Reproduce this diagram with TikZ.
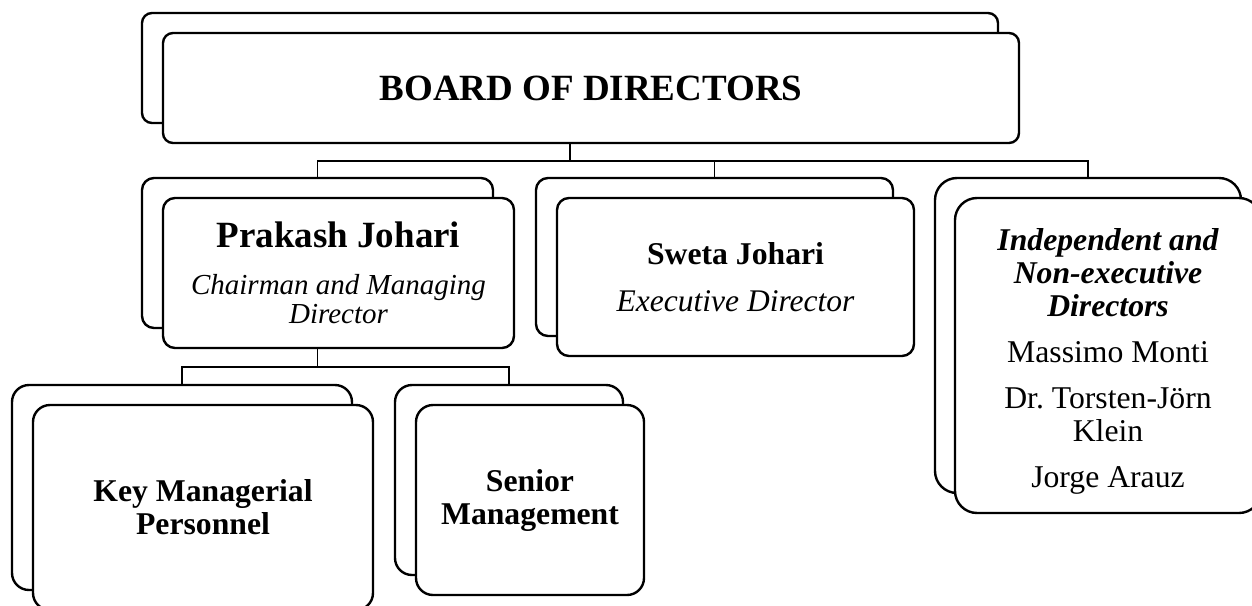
\documentclass[tikz,border=0pt]{standalone}
\usepackage{fontspec}
\setmainfont{Liberation Serif}
\begin{document}
\begin{tikzpicture}[x=1pt,y=-1pt,
		box/.style={draw, line width=2.4pt, fill=white, inner sep=0pt, align=flush center},
		link/.style={line width=1.2pt}]
	\path[use as bounding box, clip] (0,0) rectangle (1252,605);
	% board of directors
	\node[box, rounded corners=10pt, minimum width=856pt, minimum height=110pt] (bodback) at (570,68) {};
	\node[box, rounded corners=10pt, minimum width=856pt, minimum height=110pt, text width=800pt,
		font=\fontsize{37}{40}\selectfont\bfseries] (bod) at (591,88) {BOARD OF DIRECTORS};
	% second row
	\node[box, rounded corners=12pt, minimum width=351pt, minimum height=150pt] (pjback) at (317.5,253) {};
	\node[box, rounded corners=12pt, minimum width=351pt, minimum height=150pt, text width=330pt] (pj) at (338.5,273)
		{{\fontsize{37}{37}\selectfont\bfseries Prakash Johari\par}\vspace{18pt}
		{\fontsize{29}{29}\selectfont\itshape Chairman and Managing\\ Director\par}};
	\node[box, rounded corners=12pt, minimum width=357pt, minimum height=158pt] (swback) at (714.5,257) {};
	\node[box, rounded corners=12pt, minimum width=357pt, minimum height=158pt, text width=330pt] (sw) at (735.5,277)
		{{\fontsize{31.7}{32}\selectfont\bfseries Sweta Johari\par}\vspace{15pt}
		{\fontsize{31.5}{32}\selectfont\itshape Executive Director\par}};
	\node[box, rounded corners=22pt, minimum width=306pt, minimum height=315pt] (ipback) at (1088,335.5) {};
	\node[box, rounded corners=22pt, minimum width=306pt, minimum height=315pt, text width=270pt,
		font=\fontsize{31.7}{33}\selectfont] (ip) at (1108,355.5)
		{{\bfseries\itshape \rule{0pt}{34.7pt}Independent and\\ Non-executive\\ Directors\par}\vspace{13pt}
		Massimo Monti\par\vspace{13pt}
		Dr.\ Torsten-Jörn\\ Klein\par\vspace{13pt}
		Jorge Arauz\par};
	% third row
	\node[box, rounded corners=17pt, minimum width=340pt, minimum height=205pt] (kmback) at (182,487.5) {};
	\node[box, rounded corners=17pt, minimum width=340pt, minimum height=205pt, text width=300pt,
		font=\fontsize{31.7}{33}\selectfont\bfseries] (km) at (203,507.5) {Key Managerial\\ Personnel};
	\node[box, rounded corners=17pt, minimum width=228pt, minimum height=190pt] (smback) at (509,480) {};
	\node[box, rounded corners=17pt, minimum width=228pt, minimum height=190pt, text width=210pt,
		font=\fontsize{31.7}{33}\selectfont\bfseries] (sm) at (530,500) {Senior\\ Management};
	% links
	\coordinate (j1) at (570,161);
	\coordinate (j2) at (317.5,367);
	\draw[link] (bodback.south |- bod.south) -- (j1);
	\draw[link] (pjback.north) |- (j1) -| (ipback.north);
	\draw[link] (swback.north) -- (swback.north |- j1);
	\draw[link] (pjback.south |- pj.south) -- (j2);
	\draw[link] (kmback.north) |- (j2) -| (smback.north);
\end{tikzpicture}
\end{document}
